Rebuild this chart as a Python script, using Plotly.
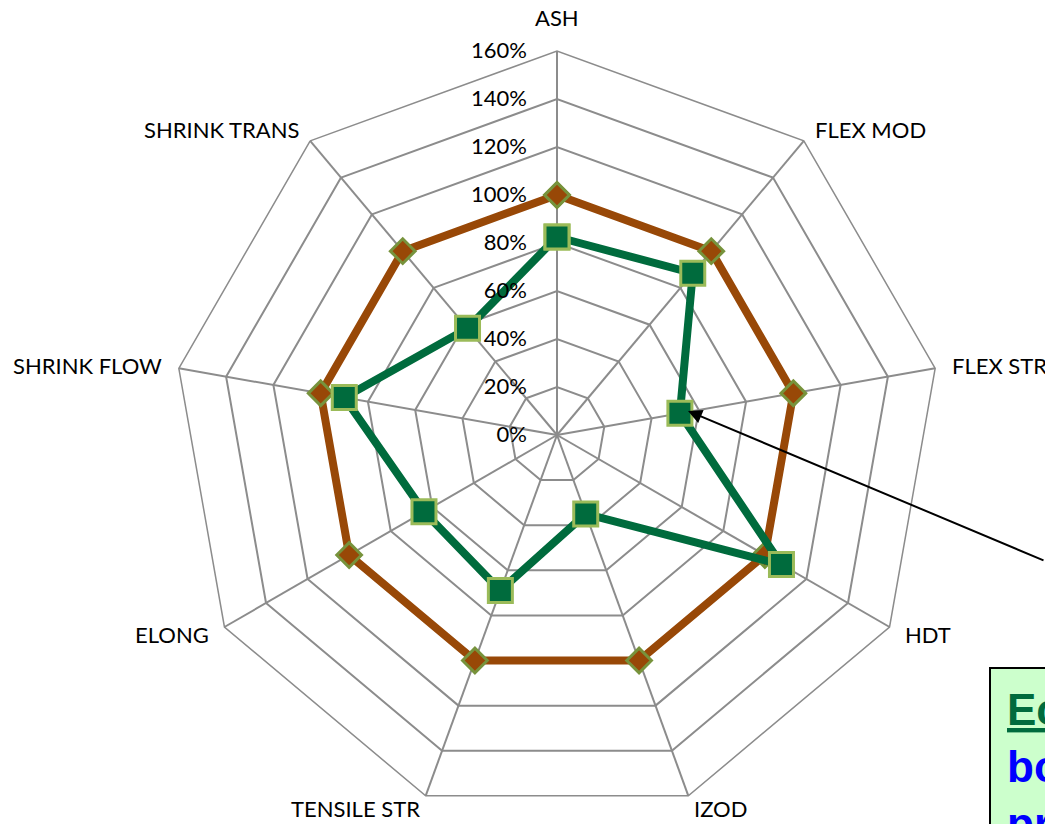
import math
import plotly.graph_objects as go

categories = ["ASH", "FLEX MOD", "FLEX STR", "HDT", "IZOD", "TENSILE STR",
              "ELONG", "SHRINK FLOW", "SHRINK TRANS"]
baseline = [100, 100, 100, 100, 100, 100, 100, 100, 100]
candidate = [82.5, 88, 52, 108, 35, 69, 64, 90, 58]
radial_ticks = [0, 20, 40, 60, 80, 100, 120, 140, 160]

W, H = 1045, 824
cx, cy, R = 557, 435, 384

def closed(v):
    return list(v) + [v[0]]

fig = go.Figure()
fig.add_trace(go.Scatterpolar(
    r=closed(baseline), theta=closed(categories), mode="lines+markers",
    line=dict(color="#984807", width=8),
    marker=dict(symbol="diamond", size=19, color="#984807",
                line=dict(color="#77933c", width=3)),
    showlegend=False, hoverinfo="skip"))
fig.add_trace(go.Scatterpolar(
    r=closed(candidate), theta=closed(categories), mode="lines+markers",
    line=dict(color="#006b3d", width=8),
    marker=dict(symbol="square", size=24, color="#006b3d",
                line=dict(color="#9bbb59", width=3)),
    showlegend=False, hoverinfo="skip"))

fig.update_layout(
    width=W, height=H, margin=dict(l=0, r=0, t=0, b=0),
    paper_bgcolor="white", plot_bgcolor="white",
    font=dict(family="Lato, Open Sans, sans-serif", size=22, color="black"),
    polar=dict(
        domain=dict(x=[(cx - R) / W, (cx + R) / W],
                    y=[(H - cy - R) / H, (H - cy + R) / H]),
        bgcolor="white",
        gridshape="linear",
        angularaxis=dict(rotation=90, direction="clockwise",
                         categoryorder="array", categoryarray=categories,
                         showline=True, linecolor="#8c8c8c", linewidth=1.5,
                         gridcolor="#8c8c8c", gridwidth=1.5,
                         ticks="", showticklabels=False),
        radialaxis=dict(range=[0, 160], tickvals=radial_ticks,
                        ticktext=[f"{v}%" for v in radial_ticks],
                        angle=90, side="counterclockwise", tickangle=90,
                        showline=False, gridcolor="#8c8c8c", gridwidth=1.5,
                        ticks="outside", ticklen=22, tickcolor="rgba(0,0,0,0)",
                        tickfont=dict(size=22)),
    ),
)

# category labels placed just outside the outer polygon (Excel-style anchoring)
gaps = {"bottom": 18, "middle": 15, "top": -3.5}
n = len(categories)
for i, name in enumerate(categories):
    a = math.radians(90 - 360 * i / n)
    ca, sa = math.cos(a), math.sin(a)
    if abs(sa) < 0.8:
        ya = "middle"
    else:
        ya = "bottom" if sa > 0 else "top"
    if abs(ca) < 0.1:
        xa = "center"
    else:
        xa = "left" if ca > 0 else "right"
    g = gaps[ya]
    px = cx + (R + g) * ca
    py = cy - (R + g) * sa
    if ya == "top":
        px += 5 if ca > 0 else -5
    fig.add_annotation(x=px / W, y=1 - py / H, xref="paper", yref="paper",
                       text=name, showarrow=False, xanchor=xa, yanchor=ya,
                       font=dict(size=22, color="black"))

# arrow pointing to the FLEX STR point
fig.add_annotation(x=688 / W, y=1 - 411 / H, xref="paper", yref="paper",
                   text="", showarrow=True, ax=392, ay=150,
                   arrowhead=2, arrowsize=1.4, arrowwidth=2, arrowcolor="black")

# partially visible text box
fig.add_annotation(
    x=989 / W, y=1 - 667 / H, xref="paper", yref="paper",
    xanchor="left", yanchor="top", align="left", showarrow=False,
    text=("<span style='color:#006b3d'><u>Economical</u></span><br>"
          "<span style='color:#0000ff'>both</span><br>"
          "<span style='color:#0000ff'>properties</span>"),
    font=dict(family="Liberation Sans, Arial", size=44, color="#0000ff", weight="bold"),
    bgcolor="#ccffcc", bordercolor="black", borderwidth=2, borderpad=16)

fig.write_html("out.html", config={"displayModeBar": False},
               post_script="document.body.style.margin='0';")
